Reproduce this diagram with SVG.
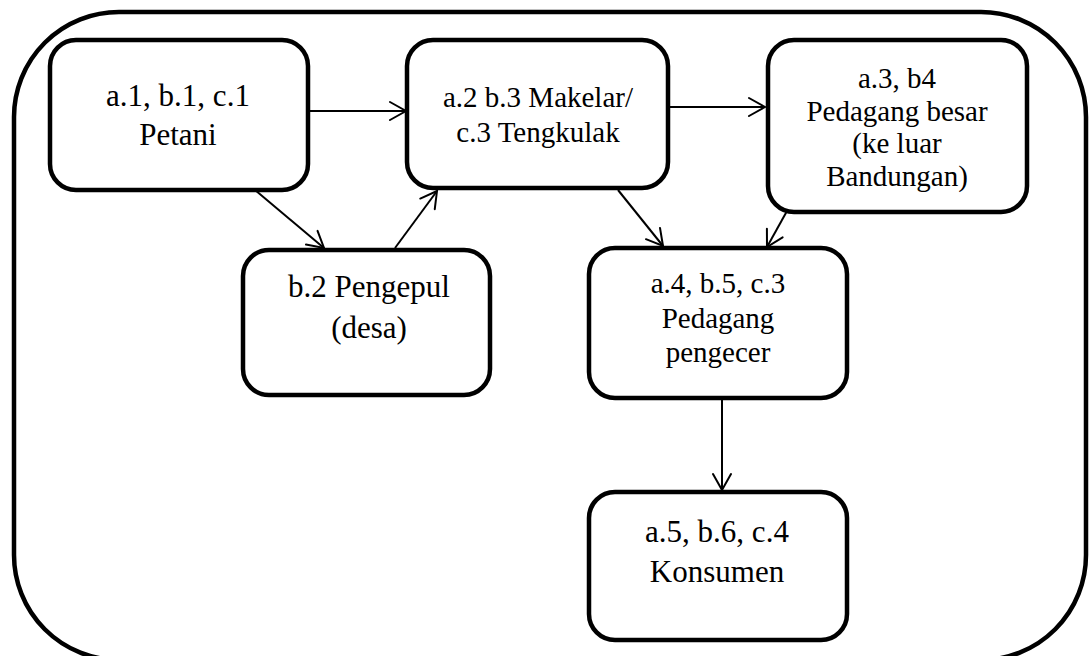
<svg xmlns="http://www.w3.org/2000/svg" width="1090" height="656" viewBox="0 0 1090 656">
<defs>
<style>
.frame{fill:none;stroke:#000;stroke-width:4.5}
.box{fill:#fff;stroke:#000;stroke-width:4.5}
text{font-family:'Liberation Serif','Times New Roman','DejaVu Serif',serif;fill:#000;text-anchor:middle}
.s31{font-size:31px}
.s29{font-size:29px}
.conn line{stroke:#000;stroke-width:2;marker-end:url(#arr)}
</style>
<marker id="arr" viewBox="-18 -11 20 22" markerWidth="20" markerHeight="22" refX="0" refY="0" markerUnits="userSpaceOnUse" orient="auto">
<path d="M-16,-9 L0,0 L-16,9" fill="none" stroke="#000" stroke-width="2" stroke-linecap="round" stroke-linejoin="miter"/>
</marker>
</defs>
<rect width="1090" height="656" fill="#fff"/>
<rect class="frame" x="14" y="12" width="1072" height="648" rx="105" ry="105"/>
<g class="conn" id="connectors">
<line x1="308" y1="111" x2="406" y2="111"/>
<line x1="668" y1="107" x2="765" y2="107"/>
<line x1="255" y1="190" x2="324" y2="248"/>
<line x1="395" y1="248" x2="437" y2="191"/>
<line x1="618" y1="190" x2="663" y2="246"/>
<line x1="787" y1="211" x2="767" y2="247"/>
<line x1="722" y1="398" x2="722" y2="490"/>
</g>
<g id="petani">
<rect class="box" x="50" y="40" width="258" height="150" rx="26"/>
<text class="s31" x="178" y="106">a.1, b.1, c.1</text>
<text class="s31" x="178" y="145">Petani</text>
</g>
<g id="makelar">
<rect class="box" x="407" y="40" width="261" height="148" rx="26"/>
<text class="s29" x="538" y="107">a.2 b.3 Makelar/</text>
<text class="s29" x="538" y="142">c.3 Tengkulak</text>
</g>
<g id="pedagang-besar">
<rect class="box" x="768" y="40" width="259" height="172" rx="26"/>
<text class="s29" x="897" y="88">a.3, b4</text>
<text class="s29" x="897" y="121">Pedagang besar</text>
<text class="s29" x="897" y="153">(ke luar</text>
<text class="s29" x="897" y="186">Bandungan)</text>
</g>
<g id="pengepul">
<rect class="box" x="243" y="250" width="247" height="145" rx="26"/>
<text class="s31" x="369" y="297">b.2 Pengepul</text>
<text class="s31" x="369" y="338">(desa)</text>
</g>
<g id="pengecer">
<rect class="box" x="589" y="248" width="258" height="150" rx="26"/>
<text class="s29" x="718" y="293">a.4, b.5, c.3</text>
<text class="s29" x="718" y="328">Pedagang</text>
<text class="s29" x="718" y="362">pengecer</text>
</g>
<g id="konsumen">
<rect class="box" x="589" y="492" width="258" height="148" rx="26"/>
<text class="s31" x="717" y="542">a.5, b.6, c.4</text>
<text class="s31" x="717" y="582">Konsumen</text>
</g>
</svg>
